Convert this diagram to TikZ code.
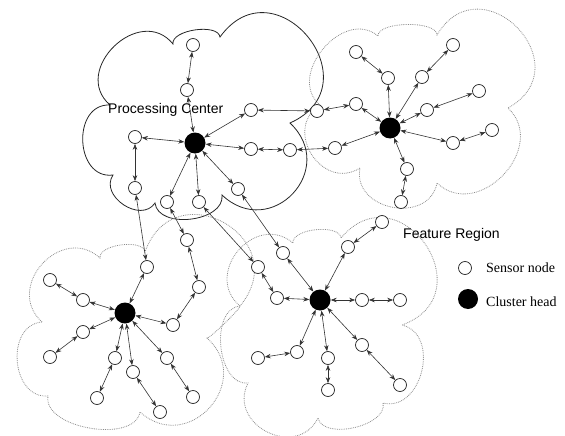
\documentclass[tikz,border=0pt]{standalone}
\usepackage{fontspec}
\setmainfont{Liberation Serif}
\newfontfamily\arialfont{Liberation Sans}
\usetikzlibrary{calc,arrows.meta}
\tikzset{
  lobe/.style 2 args={to path={.. controls ($(\tikztostart)!#1!#2:(\tikztotarget)$) and ($(\tikztotarget)!#1!-#2:(\tikztostart)$) .. (\tikztotarget)}},
  sn/.style={circle,draw=black!85,line width=0.7pt,minimum size=13pt,inner sep=0pt,fill=white},
  ch/.style={circle,fill=black,minimum size=21pt,inner sep=0pt},
  lnk/.style={{Stealth[length=6pt,width=4.5pt]}-{Stealth[length=6pt,width=4.5pt]},line width=0.6pt,draw=black!80},
  solidcloud/.style={draw=black!85,line width=0.8pt},
  dotcloud/.style={draw=black!45,line width=0.8pt,densely dotted},
  sanslabel/.style={font=\arialfont\fontsize{14}{16}\selectfont,inner sep=0pt,anchor=west},
  seriflabel/.style={font=\fontsize{14}{16}\selectfont,inner sep=0pt,anchor=west}
}
\begin{document}
\begin{tikzpicture}[x=1pt,y=-1pt]
\useasboundingbox (0,0) rectangle (565,436);
% ---- cloud outlines ----
\coordinate (C1a) at (110,105); \coordinate (C1b) at (173,44); \coordinate (C1c) at (220,37);
\coordinate (C1d) at (290,123); \coordinate (C1e) at (222,195); \coordinate (C1f) at (155,203);
\coordinate (C1g) at (113,175);
\draw[solidcloud] (C1a) to[lobe={0.6}{95}] (C1b) to[lobe={0.3}{90}] (C1c) to[lobe={0.85}{105}] (C1d)
  to[lobe={0.68}{90}] (C1e) to[lobe={0.4}{90}] (C1f) to[lobe={0.5}{90}] (C1g) to[lobe={0.55}{95}] (C1a);
\coordinate (D1) at (320,105); \coordinate (D2) at (378,36); \coordinate (D3) at (437,35);
\coordinate (D4) at (508,108); \coordinate (D6) at (437,183); \coordinate (D7) at (360,168);
\draw[dotcloud] (D1) to[lobe={0.5}{90}] (D2) to[lobe={0.25}{90}] (D3) to[lobe={0.85}{105}] (D4)
  to[lobe={0.55}{90}] (D6) to[lobe={0.55}{90}] (D7) to[lobe={0.6}{90}] (D1);
\coordinate (E1) at (42,322); \coordinate (E2) at (100,258); \coordinate (E3) at (145,252);
\coordinate (E4a) at (240,306); \coordinate (E4) at (207,338); \coordinate (E5) at (140,412);
\coordinate (E6) at (48,396);
\draw[dotcloud] (E1) to[lobe={0.6}{90}] (E2) to[lobe={0.3}{90}] (E3) to[lobe={0.8}{100}] (E4a)
  to[lobe={0.05}{90}] (E4) to[lobe={0.65}{90}] (E5) to[lobe={0.35}{90}] (E6) to[lobe={0.5}{90}] (E1);
\coordinate (F1) at (240,306); \coordinate (F2) at (293,243); \coordinate (F3) at (341,238);
\coordinate (F4) at (402,325); \coordinate (F5) at (383,403); \coordinate (F6) at (318,418);
\coordinate (F7) at (248,383);
\draw[dotcloud] (F1) to[lobe={0.6}{90}] (F2) to[lobe={0.3}{90}] (F3) to[lobe={0.85}{105}] (F4)
  to[lobe={0.5}{90}] (F5) to[lobe={0.35}{90}] (F6) to[lobe={0.6}{90}] (F7) to[lobe={0.4}{90}] (F1);
% ---- labels ----
\node[sanslabel] (pc) at (108,110) {Processing Center};
\node[sanslabel] (fr) at (403,235) {Feature Region};
% ---- cluster 1 ----
\node[ch] (H1) at (195,143) {};
\node[sn] (N1a) at (193,45) {}; \node[sn] (N1b) at (187,90) {};
\node[sn] (N1c) at (251,110) {}; \node[sn] (N1d) at (251,149) {};
\node[sn] (N1e) at (135,137) {}; \node[sn] (N1f) at (135,188) {};
\node[sn] (N1g) at (167,202) {}; \node[sn] (N1h) at (199,202) {};
\node[sn] (N1i) at (238,189) {};
% ---- cluster 2 ----
\node[ch] (H2) at (390,128) {};
\node[sn] (N2a) at (356,52) {}; \node[sn] (N2b) at (388,78) {};
\node[sn] (N2c) at (453,45) {}; \node[sn] (N2d) at (422,77) {};
\node[sn] (N2e) at (479,91) {}; \node[sn] (N2f) at (427,110) {};
\node[sn] (N2g) at (492,130) {}; \node[sn] (N2h) at (453,143) {};
\node[sn] (N2i) at (407,169) {}; \node[sn] (N2j) at (401,202) {};
\node[sn] (N2k) at (356,104) {}; \node[sn] (N2l) at (317,111) {};
\node[sn] (N2m) at (335,148) {}; \node[sn] (N2n) at (290,150) {};
% ---- cluster 3 ----
\node[ch] (H3) at (125,313) {};
\node[sn] (N3a) at (147,267) {}; \node[sn] (N3b) at (187,240) {};
\node[sn] (N3c) at (199,287) {}; \node[sn] (N3d) at (173,325) {};
\node[sn] (N3e) at (50,280) {}; \node[sn] (N3f) at (83,300) {};
\node[sn] (N3g) at (83,332) {}; \node[sn] (N3h) at (50,357) {};
\node[sn] (N3i) at (115,358) {}; \node[sn] (N3j) at (97,398) {};
\node[sn] (N3k) at (133,372) {}; \node[sn] (N3l) at (160,412) {};
\node[sn] (N3m) at (167,358) {}; \node[sn] (N3n) at (193,397) {};
% ---- cluster 4 ----
\node[ch] (H4) at (320,300) {};
\node[sn] (N4a) at (283,253) {}; \node[sn] (N4b) at (258,267) {};
\node[sn] (N4c) at (277,298) {}; \node[sn] (N4d) at (348,247) {};
\node[sn] (N4e) at (382,222) {}; \node[sn] (N4f) at (362,300) {};
\node[sn] (N4g) at (400,300) {}; \node[sn] (N4h) at (297,352) {};
\node[sn] (N4i) at (258,358) {}; \node[sn] (N4j) at (328,358) {};
\node[sn] (N4k) at (328,390) {}; \node[sn] (N4l) at (362,345) {};
\node[sn] (N4m) at (400,385) {};
% ---- links ----
\foreach \a/\b in {H1/N1b,N1b/N1a,H1/N1c,N1c/N2l,H1/N1d,N1d/N2n,N2n/N2m,N2m/H2,
  H1/N1e,N1e/N1f,N1f/N3a,N3a/H3,H1/N1g,N1g/N3b,N3b/N3c,N3c/N3d,N3d/H3,
  H1/N1h,N1h/N4b,N4b/N4c,N4c/H4,H1/N1i,N1i/N4a,N4a/H4,
  H2/N2b,N2b/N2a,H2/N2d,N2d/N2c,H2/N2f,N2f/N2e,H2/N2h,N2h/N2g,H2/N2i,N2i/N2j,H2/N2k,N2k/N2l,
  H3/N3f,N3f/N3e,H3/N3g,N3g/N3h,H3/N3i,N3i/N3j,H3/N3k,N3k/N3l,H3/N3m,N3m/N3n,
  H4/N4d,N4d/N4e,H4/N4f,N4f/N4g,H4/N4h,N4h/N4i,H4/N4j,N4j/N4k,H4/N4l,N4l/N4m}
  \draw[lnk] (\a) -- (\b);
% ---- legend ----
\node[sn] (ls) at (465,268) {};
\node[seriflabel] (lst) at (486,268) {Sensor node};
\node[ch,minimum size=20pt] (lh) at (468,299) {};
\node[seriflabel] (lht) at (486,302) {Cluster head};
\end{tikzpicture}
\end{document}
